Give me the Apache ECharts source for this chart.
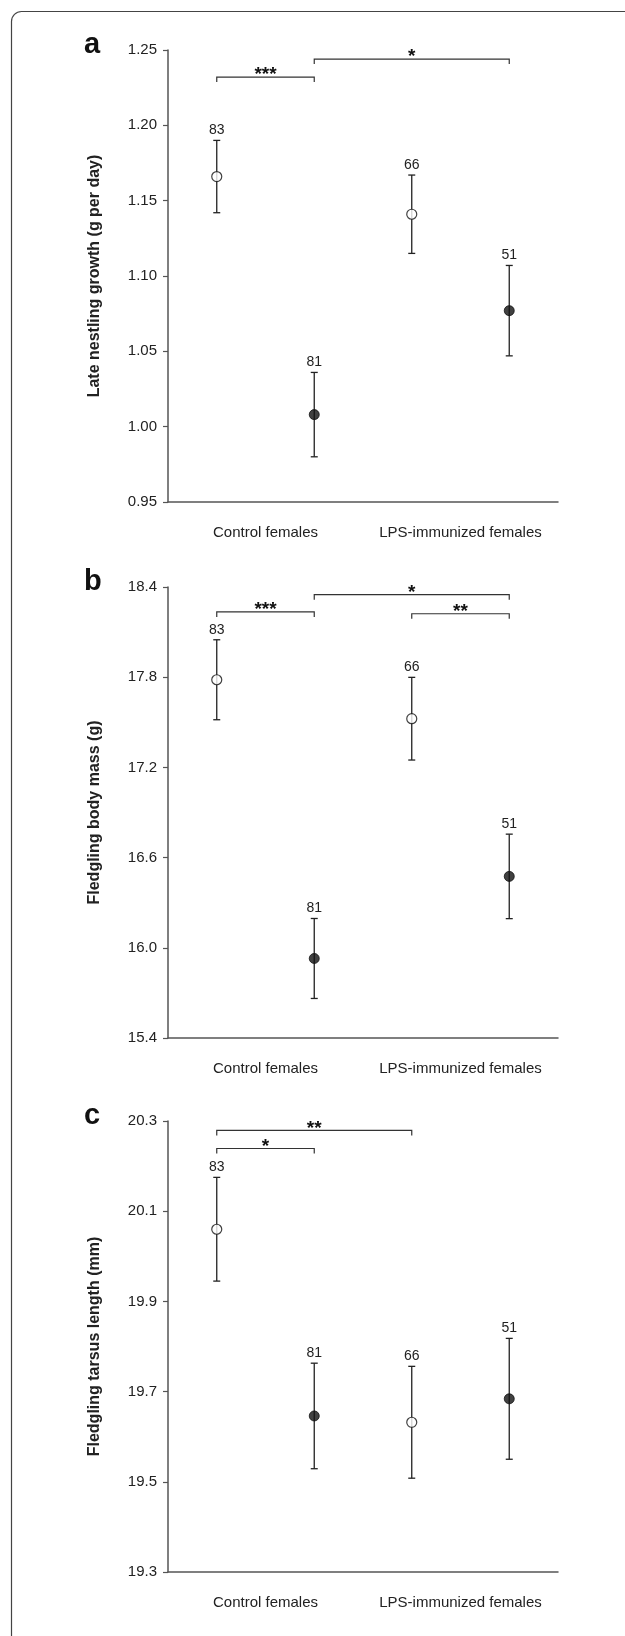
<!DOCTYPE html>
<html>
<head>
<meta charset="utf-8">
<script src="https://cdn.jsdelivr.net/npm/echarts@6/dist/echarts.min.js"></script>
<style>
  html, body { margin: 0; padding: 0; background: #fff; }
  #chart { width: 625px; height: 1636px; }
</style>
</head>
<body>
<div id="chart"></div>
<script>
// ---------------- data ----------------
const groups = ["Control females", "LPS-immunized females"];
const slots = ["C-open", "C-filled", "L-open", "L-filled"];
const markerFill = ["open", "filled", "open", "filled"];
const sampleN = [83, 81, 66, 51];

const growthMean = [1.166, 1.008, 1.141, 1.077];
const growthSE   = [0.024, 0.028, 0.026, 0.030];
const massMean   = [17.783, 15.929, 17.524, 16.475];
const massSE     = [0.266, 0.266, 0.275, 0.281];
const tarsusMean = [20.060, 19.646, 19.632, 19.684];
const tarsusSE   = [0.115, 0.117, 0.124, 0.134];

const ticksGrowth = [0.95, 1.00, 1.05, 1.10, 1.15, 1.20, 1.25];
const ticksMass   = [15.4, 16.0, 16.6, 17.2, 17.8, 18.4];
const ticksTarsus = [19.3, 19.5, 19.7, 19.9, 20.1, 20.3];

const yTitles = ["Late nestling growth (g per day)", "Fledgling body mass (g)", "Fledgling tarsus length (mm)"];
const panelLetters = ["a", "b", "c"];

// significance brackets: [fromSlot, toSlot, level, stars]
const bracketsGrowth = [[0, 1, 1.232, "***"], [1, 3, 1.244, "*"]];
const bracketsMass   = [[0, 1, 18.234, "***"], [1, 3, 18.349, "*"], [2, 3, 18.222, "**"]];
const bracketsTarsus = [[0, 2, 20.279, "**"], [0, 1, 20.239, "*"]];

// ---------------- layout ----------------
const FONT = "'Liberation Sans', Arial, Helvetica, sans-serif";
const TXT = "#222";
const AX = "#555";
const panels = [
  { mean: growthMean, se: growthSE, ticks: ticksGrowth, dec: 2, br: bracketsGrowth, top: 50, height: 452 },
  { mean: massMean, se: massSE, ticks: ticksMass, dec: 1, br: bracketsMass, top: 587, height: 451 },
  { mean: tarsusMean, se: tarsusSE, ticks: ticksTarsus, dec: 1, br: bracketsTarsus, top: 1121, height: 451 }
];

const grid = [], xAxis = [], yAxis = [], series = [], graphic = [];

graphic.push({
  type: 'rect', left: 9, top: 9, z: 0,
  shape: { width: 700, height: 1700, r: 10 },
  style: { fill: 'none', stroke: '#444', lineWidth: 1.2 }
});

panels.forEach((p, k) => {
  grid.push({ left: 168, top: p.top, width: 390, height: p.height, containLabel: false });
  const tmin = p.ticks[0], tmax = p.ticks[p.ticks.length - 1];
  xAxis.push({
    type: 'category', gridIndex: k, data: slots, boundaryGap: true,
    axisLine: { show: true, lineStyle: { color: AX, width: 1.5 } },
    axisTick: { show: false }, axisLabel: { show: false }, splitLine: { show: false }
  });
  xAxis.push({
    type: 'category', gridIndex: k, data: groups, position: 'bottom', offset: 0,
    axisLine: { show: false }, axisTick: { show: false },
    axisLabel: { show: true, interval: 0, hideOverlap: false, margin: 23, fontSize: 15, color: TXT, fontFamily: FONT },
    splitLine: { show: false }
  });
  yAxis.push({
    type: 'value', gridIndex: k, min: tmin, max: tmax,
    name: yTitles[k], nameLocation: 'middle', nameRotate: 90, nameGap: 65,
    nameTextStyle: { fontSize: 16, fontWeight: 'bold', color: TXT, fontFamily: FONT },
    axisLine: { show: true, lineStyle: { color: AX, width: 1.5 } },
    axisTick: { show: true, length: 5, customValues: p.ticks, lineStyle: { color: AX, width: 1.2 } },
    axisLabel: {
      show: true, margin: 11, fontSize: 15, color: TXT, fontFamily: FONT,
      customValues: p.ticks, formatter: v => Number(v).toFixed(p.dec)
    },
    splitLine: { show: false }
  });

  const xi = k * 2;
  // error bars with sample sizes
  const errData = p.mean.map((m, i) => [i, m - p.se[i], m + p.se[i], sampleN[i]]);
  series.push({
    type: 'custom', xAxisIndex: xi, yAxisIndex: k, data: errData, z: 2,
    renderItem: (params, api) => {
      const x = api.value(0);
      const top = api.coord([x, api.value(2)]);
      const bot = api.coord([x, api.value(1)]);
      const cw = 3.5;
      const ls = { stroke: '#222', lineWidth: 1.3 };
      return {
        type: 'group', children: [
          { type: 'line', shape: { x1: top[0], y1: top[1], x2: bot[0], y2: bot[1] }, style: ls },
          { type: 'line', shape: { x1: top[0] - cw, y1: top[1], x2: top[0] + cw, y2: top[1] }, style: ls },
          { type: 'line', shape: { x1: bot[0] - cw, y1: bot[1], x2: bot[0] + cw, y2: bot[1] }, style: ls },
          { type: 'text', style: { text: String(api.value(3)), x: top[0], y: top[1] - 10,
              align: 'center', verticalAlign: 'middle', fontSize: 14, fontFamily: FONT, fill: TXT } }
        ]
      };
    }
  });
  // markers
  const openData = [], filledData = [];
  p.mean.forEach((m, i) => { (markerFill[i] === 'open' ? openData : filledData).push([i, m]); });
  series.push({
    type: 'scatter', xAxisIndex: xi, yAxisIndex: k, data: openData, symbol: 'circle', symbolSize: 10, z: 5,
    itemStyle: { color: '#fff', borderColor: '#111', borderWidth: 1.2 }
  });
  series.push({
    type: 'scatter', xAxisIndex: xi, yAxisIndex: k, data: filledData, symbol: 'circle', symbolSize: 10, z: 5,
    itemStyle: { color: '#111', borderColor: '#111', borderWidth: 1 }
  });
  // significance brackets
  const brs = p.br;
  series.push({
    type: 'custom', xAxisIndex: xi, yAxisIndex: k, z: 3,
    data: brs.map(b => [b[0], b[1], b[2]]),
    renderItem: (params, api) => {
      const a = api.coord([api.value(0), api.value(2)]);
      const b = api.coord([api.value(1), api.value(2)]);
      const stars = brs[params.dataIndex][3];
      return {
        type: 'group', children: [
          { type: 'polyline', shape: { points: [[a[0], a[1] + 5], [a[0], a[1]], [b[0], b[1]], [b[0], b[1] + 5]] },
            style: { stroke: '#333', lineWidth: 1.2, fill: 'none' } },
          { type: 'text', style: { text: stars, x: (a[0] + b[0]) / 2, y: a[1] - 2,
              align: 'center', verticalAlign: 'middle', fontSize: 19, fontWeight: 'bold', fontFamily: FONT, fill: '#111' } }
        ]
      };
    }
  });

  graphic.push({
    type: 'text', left: 84, top: p.top - 20,
    style: { text: panelLetters[k], fontSize: 29, fontWeight: 'bold', fontFamily: FONT, fill: '#111' }
  });
});

const chart = echarts.init(document.getElementById('chart'), null, { renderer: 'canvas' });
chart.setOption({
  animation: false,
  backgroundColor: '#fff',
  grid, xAxis, yAxis, series, graphic
});
</script>
</body>
</html>
